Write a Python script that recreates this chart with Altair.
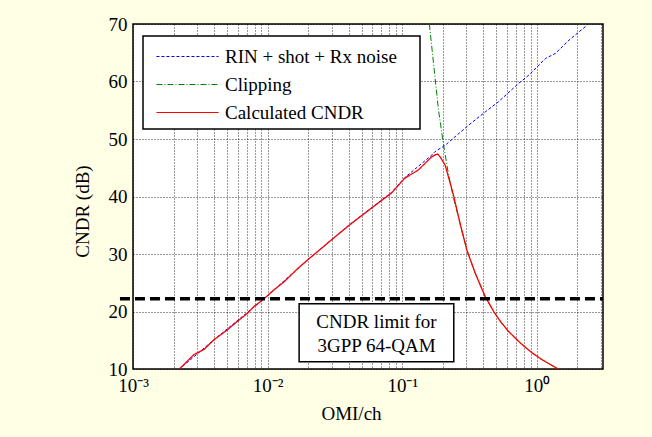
import altair as alt
import pandas as pd

# ---------------- data ----------------
series_names = ["RIN + shot + Rx noise", "Clipping", "Calculated CNDR"]
series_colors = ["#0000FF", "#008000", "#FF0000"]
series_dashes = [[3, 2], [6, 2, 1, 2], [1, 0]]

noise_omi = [0.00219, 0.00400, 0.00918, 0.0199, 0.0406, 0.0832, 0.1046, 0.1656,
             0.175, 0.208, 0.311, 0.413, 0.520, 0.734, 0.871, 1.159, 1.377,
             1.734, 2.307, 2.40]
noise_cndr = [9.9, 15.1, 22.0, 29.0, 35.1, 40.7, 43.3, 47.2,
              47.8, 48.9, 52.4, 54.7, 56.5, 59.7, 61.1, 64.0, 64.9,
              67.2, 69.6, 70.0]

clip_omi = [0.159, 0.186, 0.202, 0.220, 0.240, 0.269, 0.302, 0.348, 0.413,
            0.478, 0.535, 0.618, 0.755, 0.923, 1.096, 1.300, 1.459]
clip_cndr = [70.0, 55.0, 49.2, 44.0, 39.8, 35.3, 30.7, 26.7, 22.6,
             20.0, 18.3, 16.5, 14.5, 12.8, 11.6, 10.6, 9.9]

calc_omi = [0.00219, 0.00283, 0.00337, 0.00400, 0.00502, 0.00597, 0.00710,
            0.00794, 0.00918, 0.0112, 0.0133, 0.0168, 0.0199, 0.0296, 0.0406,
            0.0608, 0.0832, 0.1046, 0.1315, 0.1656, 0.1775, 0.1833, 0.1910,
            0.208, 0.240, 0.269, 0.302, 0.348, 0.413, 0.478, 0.535, 0.618,
            0.755, 0.923, 1.096, 1.300, 1.459]
calc_cndr = [9.9, 12.5, 13.4, 15.1, 16.8, 18.3, 19.7,
             20.9, 22.0, 23.8, 25.2, 27.5, 29.0, 32.4, 35.05,
             38.2, 40.6, 43.2, 44.6, 46.9, 47.3, 47.4, 46.9,
             45.5, 40.3, 35.3, 30.7, 26.7, 22.6, 20.0, 18.3, 16.5,
             14.5, 12.8, 11.6, 10.6, 9.9]

limit_cndr = [22.2]
limit_omi = [0.0008, 3.1]

note_text = ["CNDR limit for\n3GPP 64-QAM"]
note_box_omi = [0.01714, 0.2415]
note_box_cndr = [11.27, 21.34]
note_pos_omi = [0.0644]
note_pos_cndr = [18.2]

x_domain = [0.001, 3.1]
y_domain = [10, 70]
x_ticks = [0.001, 0.002, 0.003, 0.004, 0.005, 0.006, 0.007, 0.008, 0.009,
           0.01, 0.02, 0.03, 0.04, 0.05, 0.06, 0.07, 0.08, 0.09,
           0.1, 0.2, 0.3, 0.4, 0.5, 0.6, 0.7, 0.8, 0.9,
           1, 2, 3]
x_major_values = [0.001, 0.01, 0.1, 1]
x_major_labels = ["10⁻³", "10⁻²", "10⁻¹", "10⁰"]
y_ticks = [10, 20, 30, 40, 50, 60, 70]

# ---------------- tables ----------------
rows = []
for name, xs, ys in zip(series_names,
                        [noise_omi, clip_omi, calc_omi],
                        [noise_cndr, clip_cndr, calc_cndr]):
    for xv, yv in zip(xs, ys):
        rows.append({"omi": xv, "cndr": yv, "series": name})
df = pd.DataFrame(rows)

label_expr = " : ".join(
    f"datum.value === {v} ? '{l}'" for v, l in zip(x_major_values, x_major_labels)
) + " : ''"

FONT = "Liberation Serif"

x_scale = alt.Scale(type="log", domain=x_domain, nice=False)
y_scale = alt.Scale(domain=y_domain, nice=False, zero=False)

x_axis = alt.Axis(values=x_ticks, labelExpr=label_expr, title="OMI/ch",
                  labelFlush=False, labelOverlap=False, labelPadding=7,
                  titleX=218, titleY=44, titleBaseline="middle", titleAlign="center")
y_axis = alt.Axis(values=y_ticks, title="CNDR (dB)", labelPadding=6,
                  titleX=-51, titleY=187, titleBaseline="middle", titleAlign="center",
                  titleAngle=270)

# a white title placed on the right only widens the legend frame, as in the reference
legend = alt.Legend(title="M", orient="none", legendX=10, legendY=12)

color_enc = alt.Color("series:N", scale=alt.Scale(domain=series_names, range=series_colors),
                      legend=legend)
dash_enc = alt.StrokeDash("series:N", scale=alt.Scale(domain=series_names, range=series_dashes),
                          legend=legend)

layers = []
for i, name in enumerate(series_names):
    layers.append(
        alt.Chart(df[df.series == name]).mark_line(
            clip=True, strokeWidth=1.3 if i == 2 else 1.0
        ).encode(
            x=alt.X("omi:Q", scale=x_scale, axis=x_axis),
            y=alt.Y("cndr:Q", scale=y_scale, axis=y_axis),
            color=color_enc,
            strokeDash=dash_enc,
            order=alt.Order("omi:Q"),
        )
    )

box_df = pd.DataFrame({"x1": [note_box_omi[0]], "x2": [note_box_omi[1]],
                       "y1": [note_box_cndr[0]], "y2": [note_box_cndr[1]]})
box = alt.Chart(box_df).mark_rect(fill="white", stroke="black", strokeWidth=1.5).encode(
    x=alt.X("x1:Q", scale=x_scale), x2="x2:Q",
    y=alt.Y("y1:Q", scale=y_scale), y2="y2:Q")

txt_df = pd.DataFrame({"x": note_pos_omi, "y": note_pos_cndr, "t": note_text})
txt = alt.Chart(txt_df).mark_text(font=FONT, fontSize=19, color="black", lineBreak="\n",
                                  lineHeight=24, align="center", baseline="middle").encode(
    x=alt.X("x:Q", scale=x_scale), y=alt.Y("y:Q", scale=y_scale), text="t:N")

lim_df = pd.DataFrame({"x1": [limit_omi[0]], "x2": [limit_omi[1]], "y": limit_cndr})
lim = alt.Chart(lim_df).mark_rule(color="black", strokeWidth=3.5, strokeDash=[10, 5],
                                  clip=False).encode(
    x=alt.X("x1:Q", scale=x_scale), x2="x2:Q", y=alt.Y("y:Q", scale=y_scale))

chart = alt.layer(*layers, box, txt, lim).properties(
    width=470, height=345,
    padding={"left": 133, "top": 24, "right": 49, "bottom": 68},
    autosize="none",
    background="#FFFFE6",
).configure_view(
    stroke="black", strokeWidth=1.5, fill="white"
).configure_axis(
    grid=True, gridDash=[1, 2], gridColor="#000000", gridOpacity=0.8, gridWidth=1,
    ticks=False, domain=False,
    labelFont=FONT, labelFontSize=19, labelColor="black",
    titleFont=FONT, titleFontSize=19, titleColor="black", titleFontWeight="normal",
).configure_legend(
    fillColor="white", strokeColor="black", strokeWidth=1.5, padding=6,
    labelFont=FONT, labelFontSize=19, labelColor="black", labelLimit=400,
    symbolType="M-2.3,0H2.3", symbolSize=729, symbolStrokeWidth=1.2,
    symbolOffset=24, labelOffset=23, rowPadding=3,
    titleOrient="right", titleColor="white", titleFontSize=12, titlePadding=7,
)

chart.save("out.html", embed_options={"renderer": "svg", "actions": False})
